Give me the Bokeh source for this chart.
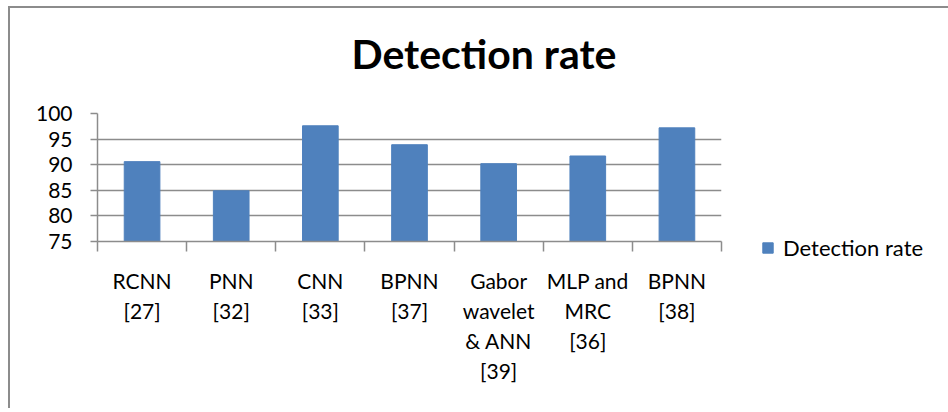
from bokeh.plotting import figure
from bokeh.models import FixedTicker, Legend, LegendItem, ColumnDataSource, Range1d, Title
from bokeh.embed import file_html
from bokeh.resources import INLINE

categories = ["RCNN\n[27]", "PNN\n[32]", "CNN\n[33]", "BPNN\n[37]",
              "Gabor\nwavelet\n& ANN\n[39]", "MLP and\nMRC\n[36]", "BPNN\n[38]"]
detection_rate = [90.6, 84.9, 97.6, 93.9, 90.2, 91.7, 97.2]
y_ticks = [75, 80, 85, 90, 95, 100]
series_name = "Detection rate"
chart_title = "Detection rate"

FONT = "Lato"
GRAY = "#8c8c8c"
BLUE = "#4F81BD"

n = len(categories)
centers = [i + 0.5 for i in range(n)]
bounds = list(range(n + 1))

src = ColumnDataSource(dict(x=centers, top=detection_rate, label=categories))

p = figure(output_backend="svg", toolbar_location=None,
           frame_width=624, frame_height=128,
           min_border_left=87, min_border_right=215,
           min_border_top=105, min_border_bottom=169,
           x_range=Range1d(0, n), y_range=Range1d(75, 100),
           title=None)
p.styles = {"box-shadow": "-2px -2px 0 0 " + GRAY,
            "margin-left": "10px", "margin-top": "8px"}
p.outline_line_color = None
p.background_fill_color = "white"
p.border_fill_color = "white"

r = p.vbar(x="x", top="top", bottom=75, width=0.4, source=src,
           fill_color=BLUE, line_color=BLUE, line_width=1)

# spacer between frame and title, then the title itself
spacer = Title(text=" ", text_font_size="1px", standoff=28)
p.add_layout(spacer, "above")
title = Title(text=chart_title, align="left", offset=254, standoff=10,
              text_font=FONT, text_font_size="41px", text_font_style="bold",
              text_color="#000000")
p.add_layout(title, "above")

# y axis
p.yaxis.ticker = FixedTicker(ticks=y_ticks)
p.yaxis.axis_line_color = GRAY
p.yaxis.axis_line_width = 1.5
p.yaxis.major_tick_line_color = GRAY
p.yaxis.major_tick_line_width = 1.5
p.yaxis.major_tick_out = 7
p.yaxis.major_tick_in = 0
p.yaxis.minor_tick_line_color = None
p.yaxis.major_label_standoff = 18
p.yaxis.major_label_text_font = FONT
p.yaxis.major_label_text_font_size = "21px"
p.yaxis.major_label_text_color = "#000000"

# x axis: labels at centres, boundary ticks as minor ticks
p.xaxis.ticker = FixedTicker(ticks=centers, minor_ticks=bounds)
p.xaxis.major_label_overrides = {c: lab for c, lab in zip(centers, categories)}
p.xaxis.axis_line_color = GRAY
p.xaxis.axis_line_width = 1.5
p.xaxis.major_tick_line_color = None
p.xaxis.major_tick_out = 0
p.xaxis.major_tick_in = 0
p.xaxis.minor_tick_line_color = GRAY
p.xaxis.minor_tick_line_width = 1.5
p.xaxis.minor_tick_out = 10
p.xaxis.minor_tick_in = 0
p.xaxis.major_label_standoff = 16
p.xaxis.major_label_text_font = FONT
p.xaxis.major_label_text_font_size = "21px"
p.xaxis.major_label_text_color = "#000000"
p.xaxis.major_label_text_line_height = 1.2

p.xgrid.grid_line_color = None
p.ygrid.ticker = FixedTicker(ticks=y_ticks)
p.ygrid.grid_line_color = GRAY
p.ygrid.grid_line_width = 1.5

legend = Legend(items=[LegendItem(label=series_name, renderers=[r])],
                location=(40, -20), glyph_width=13, glyph_height=13,
                label_standoff=9, padding=0, margin=0, spacing=0,
                border_line_color=None, background_fill_alpha=0,
                label_text_font=FONT, label_text_font_size="22px",
                label_text_color="#000000")
p.add_layout(legend, "right")

open("out.html", "w").write(file_html(p, INLINE))
